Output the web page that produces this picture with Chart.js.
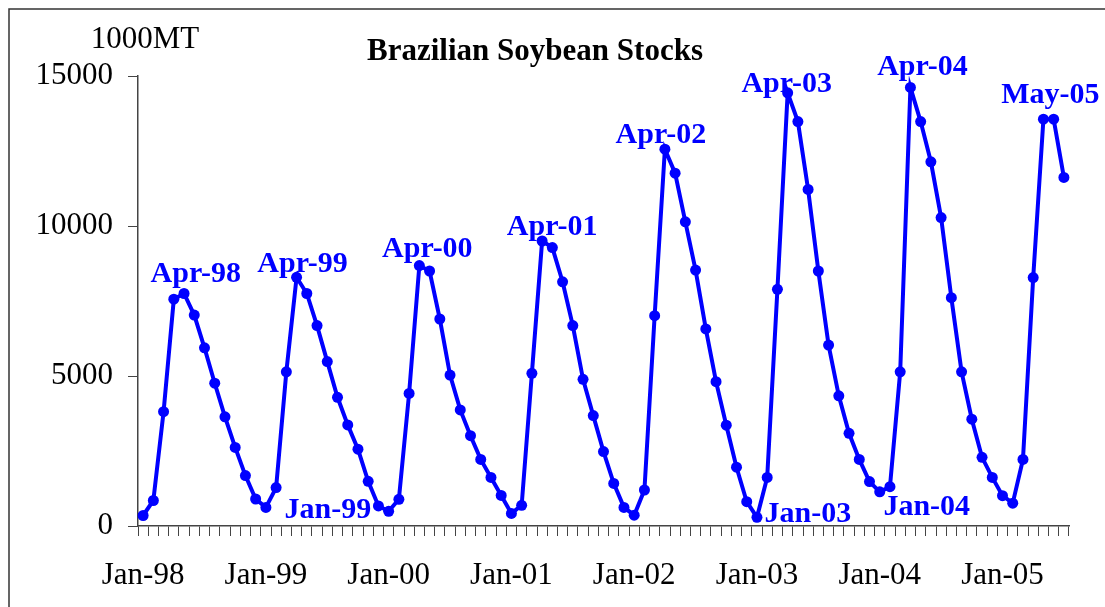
<!DOCTYPE html>
<html>
<head>
<meta charset="utf-8">
<title>Brazilian Soybean Stocks</title>
<script src="https://cdn.jsdelivr.net/npm/chart.js@4/dist/chart.umd.min.js"></script>
<style>
  body { margin: 0; background: #fff; }
  #wrap { position: relative; width: 1105px; height: 607px; }
</style>
</head>
<body>
<div id="wrap"><canvas id="myChart"></canvas></div>
<script>
// data, stocks in 1000MT, monthly Jan-98 .. Jul-05
const monthNames = ["Jan", "Feb", "Mar", "Apr", "May", "Jun", "Jul", "Aug", "Sep", "Oct", "Nov", "Dec"];
const years = ["98", "99", "00", "01", "02", "03", "04", "05"];
const lastMonthCount = 7; // 2005 runs to Jul

const stocks = [
    350, 850, 3810, 7560, 7750, 7030, 5940, 4760, 3640, 2620, 1680, 900,       // 1998
    620, 1280, 5140, 8290, 7750, 6680, 5480, 4290, 3370, 2560, 1490, 670,      // 1999
    490, 890, 4420, 8680, 8500, 6900, 5030, 3870, 3010, 2220, 1620, 1020,      // 2000
    420, 690, 5090, 9500, 9280, 8140, 6680, 4890, 3680, 2480, 1420, 620,       // 2001
    360, 1200, 7010, 12560, 11760, 10140, 8530, 6570, 4810, 3360, 1960, 810,   // 2002
    290, 1620, 7890, 14440, 13480, 11220, 8500, 6030, 4340, 3090, 2220, 1480,  // 2003
    1140, 1310, 5140, 14620, 13480, 12140, 10280, 7610, 5140, 3560, 2290, 1620, // 2004
    1010, 760, 2220, 8280, 13560, 13560, 11620                                 // 2005
];

const yTicks = [0, 5000, 10000, 15000];

// callout labels put next to peaks / troughs
const callouts = ["Apr-98", "Apr-99", "Jan-99", "Apr-00", "Apr-01", "Apr-02", "Apr-03", "Jan-03", "Apr-04", "Jan-04", "May-05"];
// where each callout sits relative to its point (px)
const calloutOffsets = [[22, -17], [6, -5], [62, 11], [8, -9], [10, -6], [-4, -6], [-1, -1], [51, 5], [12, -12], [47, 23], [7, -16]];

const months = [];
years.forEach((yr, y) => {
    monthNames.forEach((m, i) => {
        if (y === years.length - 1 && i >= lastMonthCount) return;
        months.push(`${m}-${yr}`);
    });
});

const FONT = "'Liberation Serif', 'Times New Roman', serif";
const BLUE = "#0000ff";

function init() {
    const canvas = document.getElementById("myChart");

    // frame + title + unit text
    const decor = {
        id: "decor",
        beforeDraw(chart) {
            const ctx = chart.ctx;
            ctx.save();
            ctx.fillStyle = "#fff";
            ctx.fillRect(0, 0, chart.width, chart.height);
            ctx.strokeStyle = "#333";
            ctx.lineWidth = 1.5;
            ctx.beginPath();
            ctx.moveTo(9, chart.height + 5);
            ctx.lineTo(9, 9);
            ctx.lineTo(chart.width + 5, 9);
            ctx.stroke();
            ctx.restore();
        },
        afterDraw(chart) {
            const ctx = chart.ctx;
            ctx.save();
            ctx.fillStyle = "#000";
            ctx.textAlign = "center";
            ctx.textBaseline = "alphabetic";
            ctx.font = `bold 31px ${FONT}`;
            ctx.fillText("Brazilian Soybean Stocks", 535, 60);
            ctx.font = `31px ${FONT}`;
            ctx.fillText("1000MT", 145, 48);
            ctx.restore();
        }
    };

    // draw the blue month callouts next to their points
    const calloutPlugin = {
        id: "callouts",
        afterDatasetsDraw(chart) {
            const ctx = chart.ctx;
            const meta = chart.getDatasetMeta(0);
            ctx.save();
            ctx.fillStyle = BLUE;
            ctx.font = `bold 30px ${FONT}`;
            ctx.textAlign = "center";
            ctx.textBaseline = "alphabetic";
            callouts.forEach((label, i) => {
                const pt = meta.data[months.indexOf(label)];
                if (!pt) return;
                ctx.fillText(label, pt.x + calloutOffsets[i][0], pt.y + calloutOffsets[i][1]);
            });
            ctx.restore();
        }
    };

    new Chart(canvas, {
        type: "line",
        data: {
            labels: months,
            datasets: [{
                label: "Stocks",
                data: stocks,
                borderColor: BLUE,
                backgroundColor: BLUE,
                borderWidth: 4,
                pointRadius: 5.5,
                pointHoverRadius: 5.5,
                pointBorderWidth: 0,
                tension: 0
            }]
        },
        options: {
            responsive: true,
            maintainAspectRatio: false,
            animation: false,
            events: [],
            layout: { padding: { top: 76, right: 36, left: 0, bottom: 0 } },
            plugins: {
                legend: { display: false },
                title: { display: false },
                tooltip: { enabled: false }
            },
            scales: {
                x: {
                    type: "category",
                    offset: true,
                    afterFit(scale) { scale.height = 81; },
                    grid: {
                        offset: true,
                        drawOnChartArea: false,
                        drawTicks: true,
                        tickLength: 10,
                        color: "#444",
                        lineWidth: 1
                    },
                    border: { color: "#444", width: 1.5 },
                    ticks: {
                        autoSkip: false,
                        maxRotation: 0,
                        minRotation: 0,
                        padding: 21,
                        color: "#000",
                        font: { family: FONT, size: 31 },
                        callback(value) {
                            const lbl = this.getLabelForValue(value);
                            return lbl.startsWith("Jan") ? lbl : "";
                        }
                    }
                },
                y: {
                    min: yTicks[0],
                    max: yTicks[yTicks.length - 1],
                    afterFit(scale) { scale.width = 138; },
                    afterBuildTicks(scale) { scale.ticks = yTicks.map(v => ({ value: v })); },
                    grid: {
                        drawOnChartArea: false,
                        tickLength: 10,
                        color: "#444"
                    },
                    border: { color: "#444", width: 1.5 },
                    ticks: {
                        padding: 15,
                        color: "#000",
                        font: { family: FONT, size: 31 },
                        callback: v => String(v) // no thousands comma
                    }
                }
            }
        },
        plugins: [decor, calloutPlugin]
    });
}

document.addEventListener("DOMContentLoaded", init);
</script>
</body>
</html>
